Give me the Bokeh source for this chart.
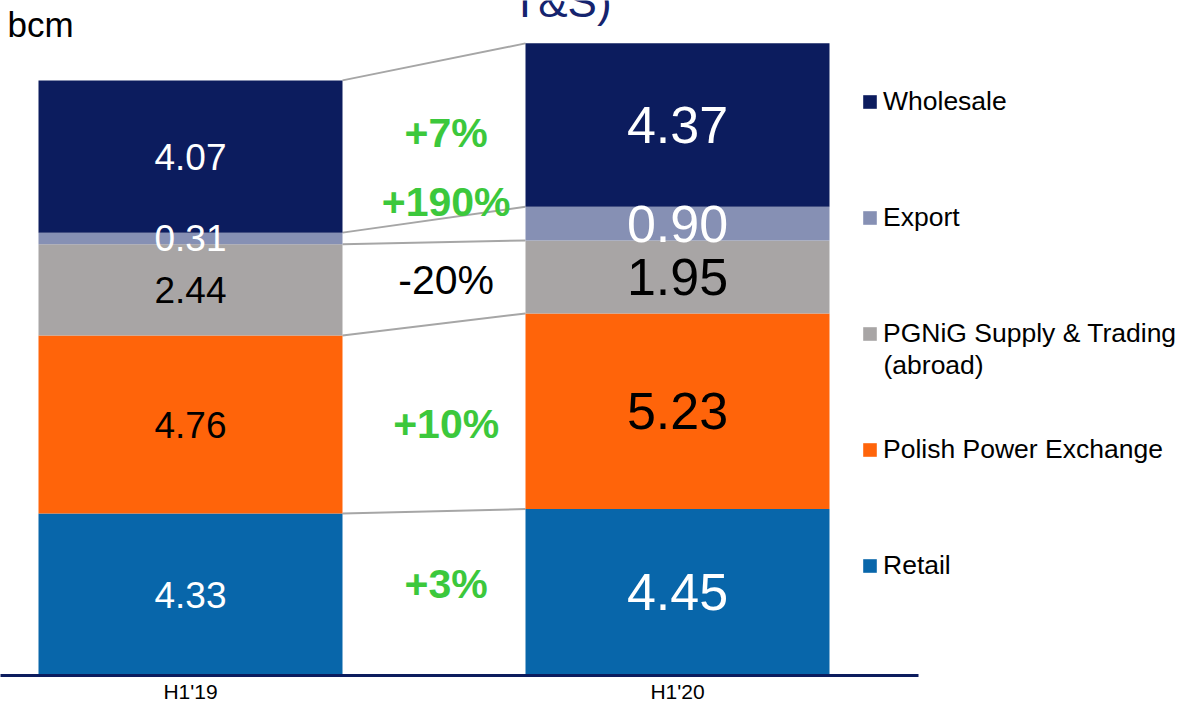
from bokeh.plotting import figure
from bokeh.models import Range1d, FixedTicker, Legend, LegendItem, Label, ColumnDataSource
from bokeh.core.properties import value
from bokeh.embed import file_html
from bokeh.resources import INLINE
import numpy as np

# ---------------- data ----------------
periods = ["H1'19", "H1'20"]
segment_names = ["Retail", "Polish Power Exchange", "PGNiG Supply & Trading", "Export", "Wholesale"]
retail = [4.33, 4.45]
power_exchange = [4.76, 5.23]
supply_trading = [2.44, 1.95]
export = [0.31, 0.90]
wholesale = [4.07, 4.37]
changes = ["+3%", "+10%", "-20%", "+190%", "+7%"]
unit_label = "bcm"
header_fragment = "T&S)"
legend_second_line = "(abroad)"

# ---------------- styles ----------------
FONT = "Liberation Sans"
colors = ["#0866AA", "#FF640A", "#A8A5A5", "#8690B4", "#0C1C5E"]
label_colors = ["white", "black", "black", "white", "white"]
change_colors = ["#3CC83C", "#3CC83C", "black", "#3CC83C", "#3CC83C"]
change_styles = ["bold", "bold", "normal", "bold", "bold"]
change_nudge = [-9, 6, -3, -29, -8]   # screen px nudges of the change labels

W, H = 1175, 705
BOTTOM = 29
FRAME_H = H - BOTTOM
PX_X = 487.0          # px per category step
X0_PX = 190.0         # px of first bar centre
PX_Y = 37.46          # px per bcm
bar_w = 304.0 / PX_X

p = figure(width=W, height=H, output_backend="svg", toolbar_location=None,
           x_range=Range1d(-X0_PX / PX_X, (W - X0_PX) / PX_X),
           y_range=Range1d(0, FRAME_H / PX_Y),
           min_border_left=0, min_border_right=0, min_border_top=0,
           min_border_bottom=BOTTOM)
p.outline_line_color = None
p.xgrid.visible = False
p.ygrid.visible = False
p.yaxis.visible = False
p.background_fill_color = "white"
p.border_fill_color = "white"

xs = np.arange(len(periods), dtype=float)
vals = np.array([retail, power_exchange, supply_trading, export, wholesale])
tops = vals.cumsum(axis=0)
bottoms = tops - vals
mids = (tops + bottoms) / 2

# connector lines between the bars
p.segment(x0=[xs[0] + bar_w / 2] * len(vals), y0=tops[:, 0],
          x1=[xs[1] - bar_w / 2] * len(vals), y1=tops[:, 1],
          line_color="#A6A6A6", line_width=2)

renderers = []
for i in range(len(vals)):
    r = p.vbar(x=xs, bottom=bottoms[i], top=tops[i], width=bar_w,
               fill_color=colors[i], line_color=None)
    renderers.append(r)

# value labels
left_src = ColumnDataSource(dict(x=[xs[0]] * len(vals), y=mids[:, 0],
                                 t=["%.2f" % v for v in vals[:, 0]], c=label_colors))
right_src = ColumnDataSource(dict(x=[xs[1]] * len(vals), y=mids[:, 1],
                                  t=["%.2f" % v for v in vals[:, 1]], c=label_colors))
p.text(x="x", y="y", text="t", text_color="c", source=left_src,
       text_font=value(FONT), text_font_size="37px",
       text_align="center", text_baseline="middle")
p.text(x="x", y="y", text="t", text_color="c", source=right_src,
       text_font=value(FONT), text_font_size="52px",
       text_align="center", text_baseline="middle")

# change labels
chg_src = ColumnDataSource(dict(x=[0.525] * len(vals), y=mids.mean(axis=1), t=changes,
                                c=change_colors, s=change_styles, o=change_nudge))
p.text(x="x", y="y", text="t", text_color="c", text_font_style="s", y_offset="o",
       source=chg_src, text_font=value(FONT), text_font_size="41px",
       text_align="center", text_baseline="middle")

# x axis
ax = p.xaxis[0]
ax.ticker = FixedTicker(ticks=list(xs))
ax.major_label_overrides = {int(i): lab for i, lab in enumerate(periods)}
ax.major_tick_line_color = None
ax.minor_tick_line_color = None
ax.major_tick_out = 0
ax.major_tick_in = 0
ax.minor_tick_out = 0
ax.axis_line_color = "#0C1C5E"
ax.axis_line_width = 3
ax.bounds = (-X0_PX / PX_X, (918 - X0_PX) / PX_X)
ax.major_label_text_font = FONT
ax.major_label_text_font_size = "21px"
ax.major_label_text_color = "black"
ax.major_label_standoff = 4

# legend (top to bottom: Wholesale ... Retail)
items = [LegendItem(label=segment_names[i], renderers=[renderers[i]]) for i in range(len(vals) - 1, -1, -1)]
legend = Legend(items=items, location=(861, 94), orientation="vertical",
                glyph_width=17, glyph_height=17, label_standoff=5, spacing=85,
                padding=0, margin=0, border_line_color=None, background_fill_alpha=0,
                label_text_font=FONT, label_text_font_size="26.5px", label_text_color="black")
p.add_layout(legend)

p.add_layout(Label(x=883, y=FRAME_H - 365, x_units="screen", y_units="screen",
                   text=legend_second_line, text_font=FONT, text_font_size="26.5px",
                   text_baseline="middle", text_align="left", text_color="black"))
p.add_layout(Label(x=7, y=FRAME_H - 25, x_units="screen", y_units="screen",
                   text=unit_label, text_font=FONT, text_font_size="35px",
                   text_baseline="middle", text_align="left", text_color="black"))
p.add_layout(Label(x=561, y=FRAME_H - 2, x_units="screen", y_units="screen",
                   text=header_fragment, text_font=FONT, text_font_size="44px",
                   text_baseline="middle", text_align="center", text_color="#15246E"))

open("out.html", "w").write(file_html(p, INLINE))
